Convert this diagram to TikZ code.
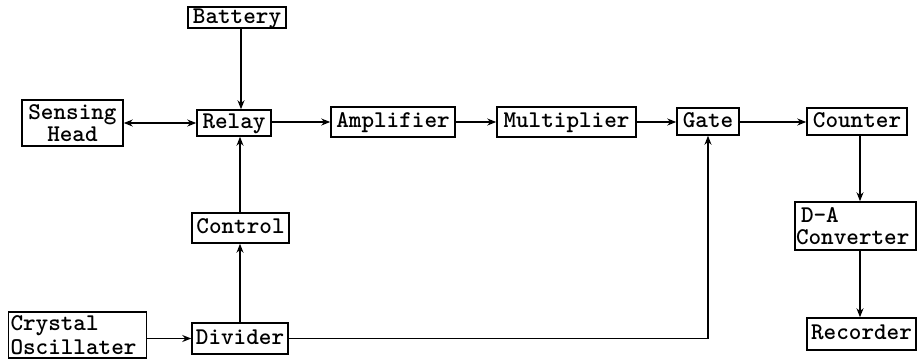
\documentclass[tikz,border=0pt]{standalone}
\usetikzlibrary{arrows.meta}
\begin{document}
\begin{tikzpicture}[x=1pt,y=-1pt,
  blk/.style={draw,line width=1.5pt,inner sep=0pt,font=\fontsize{24}{20}\selectfont\ttfamily\bfseries,text height=15pt,text depth=4pt},
  blk2/.style={draw,line width=1.5pt,inner sep=0pt,font=\ttfamily\bfseries},
  arr/.style={line width=1.3pt,-{Stealth[length=9pt,width=7pt]}},
  darr/.style={line width=1.3pt,{Stealth[length=9pt,width=7pt]}-{Stealth[length=9pt,width=7pt]}}]
\useasboundingbox (0,0) rectangle (922,360);
\node[blk,minimum width=98pt,minimum height=21pt] (battery) at (237,17.5) {Battery};
\node[blk2,minimum width=101pt,minimum height=46pt,align=center,font=\fontsize{24}{22.5}\selectfont\ttfamily\bfseries] (sensing) at (72.5,123) {Sensing\\Head};
\node[blk,minimum width=74pt,minimum height=26pt] (relay) at (234,123) {Relay};
\node[blk,minimum width=124pt,minimum height=30pt] (amp) at (393,122) {Amplifier};
\node[blk,minimum width=139pt,minimum height=30pt] (mult) at (566.5,122) {Multiplier};
\node[blk,minimum width=62pt,minimum height=27pt] (gate) at (708,121.5) {Gate};
\node[blk,minimum width=100pt,minimum height=27pt] (counter) at (857,121.5) {Counter};
\node[blk,minimum width=97pt,minimum height=30pt] (control) at (240.5,228) {Control};
\node[blk2,minimum width=138pt,minimum height=46pt,align=left,text width=134pt,font=\fontsize{24}{23.5}\selectfont\ttfamily\bfseries] (crystal) at (77.5,335) {Crystal\\Oscillater};
\node[blk,minimum width=96pt,minimum height=31pt] (divider) at (240,338.5) {Divider};
\node[blk2,minimum width=121pt,minimum height=48pt,align=left,text width=119pt,font=\fontsize{24}{22}\selectfont\ttfamily\bfseries] (da) at (855.5,226) {\hspace{5pt}D-A\\Converter};
\node[blk,minimum width=109pt,minimum height=32pt] (recorder) at (861.5,334) {Recorder};
\draw[arr] (battery.south -| 241,0) -- (relay.north -| 241,0);
\draw[darr] (sensing.east |- 0,123) -- (relay.west);
\draw[arr] (relay.east |- 0,122) -- (amp.west);
\draw[arr] (amp.east) -- (mult.west);
\draw[arr] (mult.east) -- (gate.west |- 0,122);
\draw[arr] (gate.east |- 0,122) -- (counter.west |- 0,122);
\draw[arr] (control.north -| 240,0) -- (relay.south -| 240,0);
\draw[arr] (divider.north -| 240,0) -- (control.south -| 240,0);
\draw[arr] (crystal.east |- divider.east) -- (divider.west);
\draw[arr] (divider.east) -| (gate.south);
\draw[arr] (counter.south -| 860,0) -- (da.north -| 860,0);
\draw[arr] (da.south -| 860,0) -- (recorder.north -| 860,0);
\end{tikzpicture}
\end{document}
